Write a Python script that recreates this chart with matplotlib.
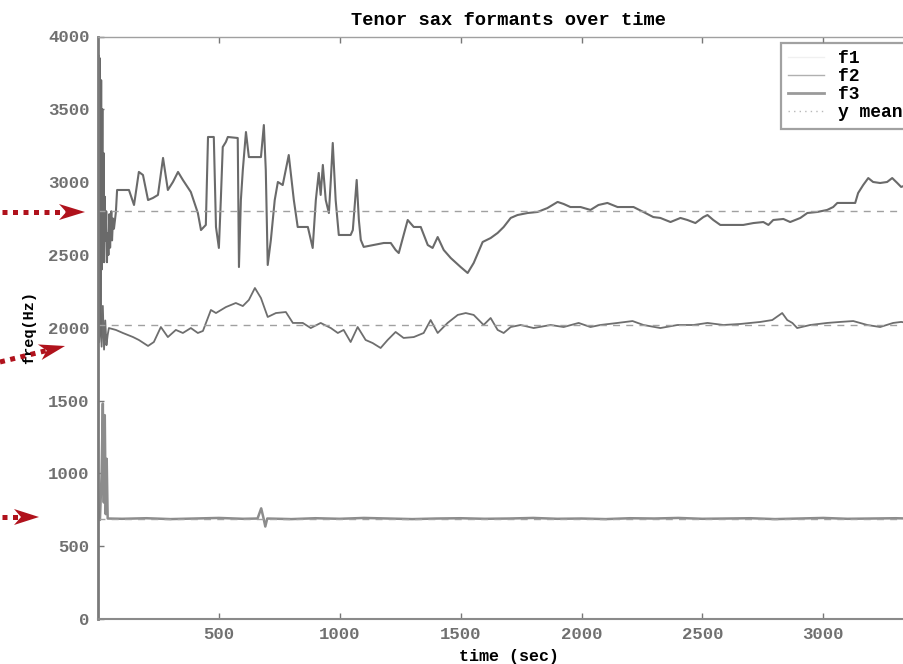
import matplotlib
matplotlib.use("Agg")
import matplotlib.pyplot as plt
from matplotlib.lines import Line2D
from matplotlib.patches import Polygon
import numpy as np

# ---- formant tracks (time in sec, frequency in Hz) ----
f1_t = [0, 8, 15, 20, 24, 28, 32, 36, 40, 100, 200, 300, 400, 500, 600, 660, 675, 685,
        692, 700, 800, 900, 1000, 1100, 1200, 1300, 1400, 1500, 1600, 1700, 1800, 1900,
        2000, 2100, 2200, 2300, 2400, 2500, 2600, 2700, 2800, 2900, 3000, 3100, 3200,
        3300, 3400]
f1_hz = [700, 680, 1000, 1480, 800, 1400, 720, 1100, 690, 688, 692, 686, 690, 694, 688,
         690, 760, 690, 635, 690, 686, 692, 688, 694, 690, 686, 690, 692, 688, 690, 694,
         688, 690, 686, 692, 690, 694, 688, 690, 692, 686, 690, 694, 688, 690, 692, 688]

f2_t = [0, 5, 10, 15, 20, 25, 30, 35, 40, 45, 74, 103, 145, 169, 207, 231, 260, 289,
        322, 351, 384, 413, 434, 467, 488, 529, 570, 599, 624, 649, 674, 702, 736, 777,
        806, 847, 880, 921, 963, 992, 1016, 1045, 1074, 1107, 1136, 1169, 1198, 1231,
        1264, 1306, 1347, 1376, 1405, 1446, 1488, 1521, 1554, 1595, 1624, 1653, 1678,
        1707, 1748, 1802, 1872, 1926, 1988, 2037, 2078, 2149, 2211, 2256, 2326, 2397,
        2463, 2521, 2587, 2657, 2740, 2789, 2830, 2851, 2872, 2892, 2946, 3016, 3070,
        3124, 3182, 3235, 3289, 3322, 3360, 3400]
f2_hz = [2000, 1900, 2100, 1870, 2150, 1850, 2050, 1880, 1950, 1998, 1985, 1964, 1936,
         1916, 1875, 1902, 2005, 1936, 1985, 1964, 1998, 1964, 1978, 2122, 2101, 2142,
         2170, 2149, 2191, 2273, 2204, 2074, 2101, 2108, 2033, 2033, 1998, 2033, 1998,
         1964, 1985, 1902, 2005, 1916, 1895, 1861, 1916, 1971, 1930, 1936, 1964, 2053,
         1964, 2033, 2088, 2101, 2088, 2019, 2067, 1985, 1964, 2005, 2019, 1998, 2019,
         2005, 2033, 2005, 2019, 2033, 2046, 2019, 1998, 2019, 2019, 2033, 2019, 2026,
         2040, 2053, 2101, 2053, 2033, 1998, 2019, 2033, 2040, 2046, 2019, 2005, 2033,
         2040, 2030, 2035]

f3_t = [0, 3, 5, 8, 10, 13, 15, 18, 20, 23, 25, 28, 31, 34, 37, 40, 43, 47, 50, 55, 58,
        62, 66, 74, 79, 128, 149, 169, 186, 207, 227, 248, 269, 289, 310, 331, 351, 384,
        413, 426, 446, 455, 479, 488, 500, 508, 516, 529, 537, 578, 583, 591, 599, 612,
        624, 674, 686, 694, 702, 715, 731, 744, 764, 789, 810, 826, 868, 888, 901, 913,
        921, 930, 942, 955, 963, 971, 983, 996, 1045, 1054, 1070, 1079, 1087, 1099,
        1140, 1182, 1211, 1231, 1244, 1264, 1281, 1306, 1335, 1364, 1384, 1405, 1430,
        1459, 1500, 1529, 1554, 1591, 1624, 1653, 1678, 1707, 1735, 1777, 1818, 1859,
        1901, 1926, 1954, 1996, 2037, 2070, 2107, 2149, 2182, 2215, 2256, 2297, 2326,
        2368, 2409, 2438, 2471, 2504, 2521, 2545, 2574, 2616, 2669, 2711, 2752, 2773,
        2793, 2835, 2863, 2905, 2934, 2975, 3016, 3041, 3058, 3099, 3132, 3144, 3165,
        3186, 3206, 3235, 3264, 3285, 3306, 3322, 3360, 3400]
f3_hz = [2450, 3870, 2300, 3850, 1950, 3700, 2400, 3500, 2500, 3200, 2450, 2900, 2600,
         2800, 2450, 2650, 2500, 2780, 2550, 2800, 2600, 2750, 2680, 2795, 2946, 2946,
         2843, 3070, 3049, 2877, 2891, 2912, 3166, 2946, 3001, 3070, 3015, 2932, 2788,
         2671, 2706, 3310, 3310, 2692, 2548, 2877, 3241, 3276, 3310, 3303, 2417, 2877,
         3083, 3344, 3172, 3172, 3392, 3083, 2431, 2603, 2877, 3001, 2980, 3186, 2877,
         2692, 2692, 2548, 2877, 3063, 2912, 3118, 2877, 2788, 3015, 3269, 2877, 2637,
         2637, 2671, 3015, 2740, 2603, 2555, 2568, 2582, 2582, 2534, 2513, 2637, 2740,
         2692, 2692, 2568, 2548, 2623, 2534, 2479, 2417, 2376, 2445, 2589, 2616, 2651,
         2692, 2754, 2774, 2788, 2795, 2822, 2864, 2850, 2829, 2829, 2809, 2843, 2857,
         2829, 2829, 2829, 2795, 2760, 2754, 2726, 2754, 2740, 2719, 2760, 2774, 2740,
         2706, 2706, 2706, 2719, 2726, 2706, 2740, 2747, 2726, 2754, 2788, 2795, 2809,
         2829, 2857, 2857, 2857, 2925, 2980, 3028, 3001, 2994, 3001, 3028, 2994, 2967,
         2990, 3010]

# mean level of each formant
mean_hz = [690, 2020, 2800]

x_ticks = [500, 1000, 1500, 2000, 2500, 3000]
y_ticks = [0, 500, 1000, 1500, 2000, 2500, 3000, 3500, 4000]
series_labels = ["f1", "f2", "f3", "y mean"]

W, H = 904, 664
mono = "Liberation Mono"

fig = plt.figure(figsize=(W / 100, H / 100), dpi=100)
ax = fig.add_axes([98 / W, 1 - 619 / H, (920 - 98) / W, (619 - 36.5) / H])

ax.plot(f1_t, f1_hz, color="#8c8c8c", lw=1.8)
ax.plot(f2_t, f2_hz, color="#6e6e6e", lw=1.3)
ax.plot(f3_t, f3_hz, color="#6a6a6a", lw=1.5)
for m in mean_hz:
    ax.axhline(m, color="#a0a0a0", lw=1.0, linestyle=(0, (5, 4.5)))

ax.set_xlim(0, 3400)
ax.set_ylim(0, 4000)
ax.set_xticks(x_ticks)
ax.set_yticks(y_ticks)
ax.tick_params(direction="in", length=4, width=1, color="#777777",
               top=True, right=True, labelsize=12.5, labelcolor="#707070", pad=6)
for lab in ax.get_xticklabels() + ax.get_yticklabels():
    lab.set_fontfamily(mono)
    lab.set_fontweight("bold")

ax.spines["left"].set_color("#7a7a7a")
ax.spines["left"].set_linewidth(2.0)
ax.spines["bottom"].set_color("#8a8a8a")
ax.spines["bottom"].set_linewidth(1.5)
ax.spines["top"].set_color("#a0a0a0")
ax.spines["top"].set_linewidth(1.0)
ax.spines["right"].set_color("#a0a0a0")

ax.set_title("Tenor sax formants over time", fontfamily=mono, fontweight="bold",
             fontsize=13.5, pad=8)
ax.set_xlabel("time (sec)", fontfamily=mono, fontweight="bold", fontsize=12,
              labelpad=5)
ax.set_ylabel("freq(Hz)", fontfamily=mono, fontweight="bold", fontsize=11,
              labelpad=9)

handles = [
    Line2D([], [], color="#f0f0f0", lw=1.0),
    Line2D([], [], color="#b0b0b0", lw=1.0),
    Line2D([], [], color="#9a9a9a", lw=2.0),
    Line2D([], [], color="#b8b8b8", lw=1.0, linestyle=(0, (1, 3))),
]
leg = ax.legend(handles, series_labels, loc="upper left",
                bbox_to_anchor=((781 - 98) / (920 - 98), (619 - 43) / (619 - 36.5)),
                borderaxespad=0, frameon=True, fancybox=False,
                prop={"family": mono, "weight": "bold", "size": 13},
                handlelength=2.0, handletextpad=0.75, labelspacing=0.06,
                borderpad=0.4)
leg.get_frame().set_edgecolor("#8a8a8a")
leg.get_frame().set_linewidth(1.6)


# ---- red dotted pointers on the left margin ----
def pointer(tail, tip, head_len=26, head_half=8):
    tail = np.array(tail, float)
    tip = np.array(tip, float)
    u = (tip - tail) / np.linalg.norm(tip - tail)
    n = np.array([-u[1], u[0]])
    notch = tip - u * head_len * 0.72
    back = tip - u * head_len

    def to_fig(p):
        return (p[0] / W, 1 - p[1] / H)

    a, b = to_fig(tail), to_fig(notch)
    fig.add_artist(Line2D([a[0], b[0]], [a[1], b[1]], transform=fig.transFigure,
                          color="#b0121c", lw=3.6, linestyle=(0, (1, 1.1)),
                          dash_capstyle="butt"))
    verts = [to_fig(tip), to_fig(back + n * head_half), to_fig(notch),
             to_fig(back - n * head_half)]
    fig.add_artist(Polygon(verts, closed=True, transform=fig.transFigure,
                           facecolor="#b0121c", edgecolor="none"))


pointer((2, 212), (85, 212))
pointer((0, 362), (65, 346))
pointer((2, 517), (39, 517), head_len=25)

fig.savefig("out.png", dpi=100)
